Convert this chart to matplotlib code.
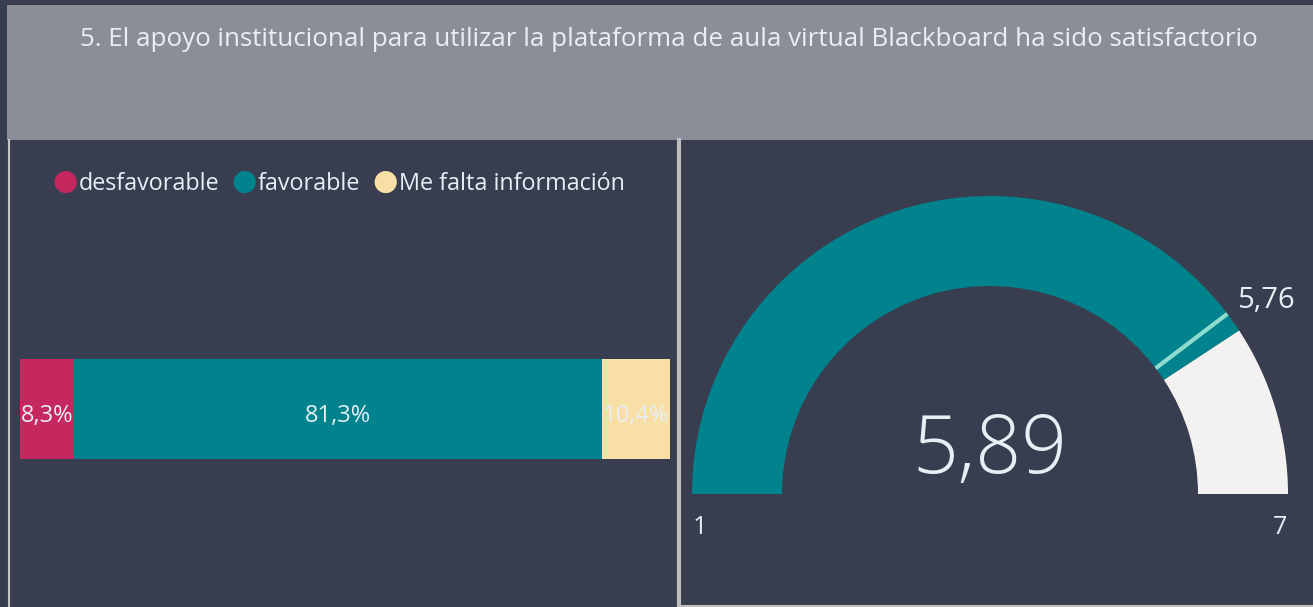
import matplotlib
matplotlib.use("Agg")
import matplotlib.pyplot as plt
from matplotlib.patches import Rectangle, Wedge
from matplotlib.lines import Line2D
import numpy as np

plt.rcParams['font.family'] = ['Open Sans', 'DejaVu Sans']

title = "5. El apoyo institucional para utilizar la plataforma de aula virtual Blackboard ha sido satisfactorio"
categories = ["desfavorable", "favorable", "Me falta información"]
shares = [8.3, 81.3, 10.4]
share_labels = ["8,3%", "81,3%", "10,4%"]
colors = ["#c4285e", "#00838c", "#f7dfa5"]

gauge_min, gauge_max = 1, 7
gauge_value = 5.89
gauge_target = 5.76
gauge_value_label = "5,89"
gauge_target_label = "5,76"
gauge_min_label = "1"
gauge_max_label = "7"

W, H = 1313, 607
BG = "#383e4f"
TXT = "#e8eef6"
fig = plt.figure(figsize=(W / 100, H / 100), dpi=100)
fig.patch.set_facecolor(BG)

def fx(px):
    return px / W

def fy(py):
    return 1 - py / H

# title band
fig.add_artist(Rectangle((fx(7), fy(140)), fx(W - 7), (140 - 5) / H,
                         transform=fig.transFigure, facecolor="#8a8e98", edgecolor="none"))
fig.text(fx(669), fy(40), title, color=TXT, fontsize=18.7, ha="center", va="center")

# panel borders
fig.add_artist(Line2D([fx(9), fx(9)], [fy(140), fy(607)], transform=fig.transFigure,
                      color="#c4c4c4", lw=1.5))
fig.add_artist(Line2D([fx(679), fx(679)], [fy(140), fy(607)], transform=fig.transFigure,
                      color="#bdbdbd", lw=3))
fig.add_artist(Line2D([fx(681), fx(1313)], [fy(606), fy(606)], transform=fig.transFigure,
                      color="#bdbdbd", lw=1.5))

# legend
leg_x = [65, 244, 385]
for x, c, lab in zip(leg_x, colors, categories):
    fig.text(fx(x), fy(182), "\u25CF", color=c, fontsize=21, ha="center", va="center",
             family="DejaVu Sans")
    fig.text(fx(x + 14), fy(184), lab, color=TXT, fontsize=16.8, ha="left", va="center")

# stacked bar
axb = fig.add_axes([fx(20), fy(470), fx(650), (470 - 348) / H])
axb.set_facecolor("none")
left = 0
for v, c, lab in zip(shares, colors, share_labels):
    axb.barh([0], [v], left=left, color=c, height=100 / 122, edgecolor="none")
    axb.text(left + v / 2, -0.055, lab, color=TXT, fontsize=17, ha="center", va="center")
    left += v
axb.set_xlim(0, 100)
axb.set_ylim(-0.5, 0.5)
axb.axis("off")

# gauge
cx, cy, R = 990, 494, 298
x0, x1 = (681 - cx) / R, (1313 - cx) / R
y0, y1 = (cy - 605) / R, (cy - 140) / R
axg = fig.add_axes([fx(681), fy(605), fx(1313 - 681), (605 - 140) / H])
axg.set_facecolor("none")
axg.set_xlim(x0, x1)
axg.set_ylim(y0, y1)
axg.axis("off")

def ang(v):
    return 180 * (1 - (v - gauge_min) / (gauge_max - gauge_min))

inner = 208 / 298
a_val = ang(gauge_value)
axg.add_patch(Wedge((0, 0), 1, 0, a_val, width=1 - inner, facecolor="#f3f2f1", edgecolor="none"))
axg.add_patch(Wedge((0, 0), 1, a_val, 180, width=1 - inner, facecolor="#00838c", edgecolor="none"))
a_t = np.deg2rad(ang(gauge_target))
axg.plot([inner * np.cos(a_t), np.cos(a_t)], [inner * np.sin(a_t), np.sin(a_t)],
         color="#8fdccf", lw=3, solid_capstyle="butt")
axg.text(0.83, (cy - 300) / R, gauge_target_label, color=TXT, fontsize=21, ha="left", va="center")
axg.text(0, (cy - 452) / R, gauge_value_label, color=TXT, fontsize=58, ha="center", va="center",
         fontweight="light")
axg.text((700 - cx) / R, (cy - 528) / R, gauge_min_label, color=TXT, fontsize=18, ha="center", va="center")
axg.text((1280 - cx) / R, (cy - 528) / R, gauge_max_label, color=TXT, fontsize=18, ha="center", va="center")

fig.savefig("out.png", dpi=100, facecolor=BG)
